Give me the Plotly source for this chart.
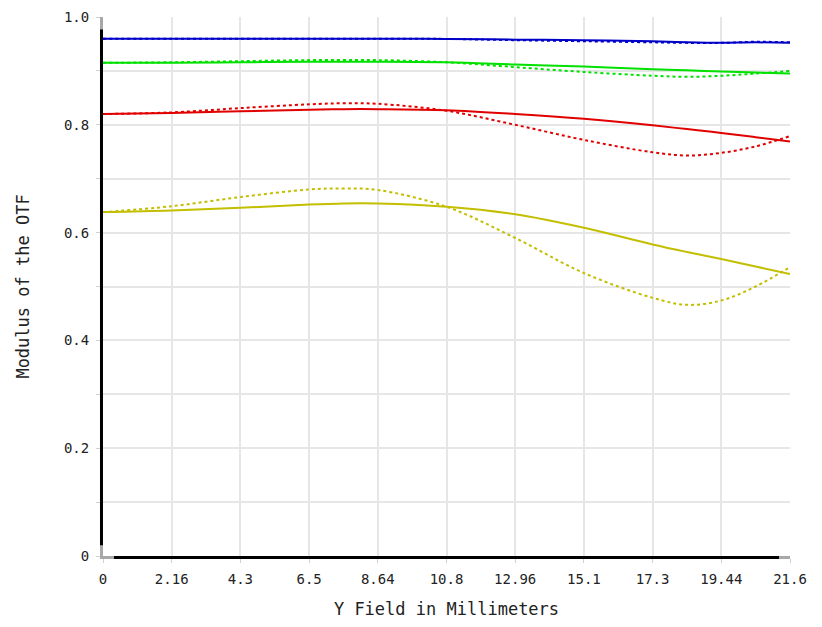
"""MTF vs field chart: modulus of the OTF across the Y field."""

import plotly.graph_objects as go

FONT = "DejaVu Sans Mono"

field_mm = [0, 2.16, 4.32, 6.48, 7.56, 8.64, 10.8, 12.96, 15.12, 17.28, 18.36, 19.44, 20.52, 21.6]

blue_tan = [0.9595, 0.9595, 0.9595, 0.9595, 0.9595, 0.9595, 0.9593, 0.958, 0.957, 0.955, 0.953, 0.952, 0.953, 0.952]
blue_sag = [0.9595, 0.9595, 0.9595, 0.9597, 0.9597, 0.9597, 0.9593, 0.957, 0.955, 0.953, 0.952, 0.952, 0.954, 0.953]
green_tan = [0.915, 0.915, 0.916, 0.917, 0.917, 0.917, 0.916, 0.912, 0.908, 0.903, 0.901, 0.899, 0.897, 0.895]
green_sag = [0.915, 0.916, 0.918, 0.920, 0.920, 0.920, 0.916, 0.907, 0.898, 0.891, 0.889, 0.891, 0.895, 0.900]
red_tan = [0.820, 0.822, 0.825, 0.828, 0.829, 0.829, 0.827, 0.820, 0.811, 0.799, 0.792, 0.785, 0.777, 0.769]
red_sag = [0.820, 0.823, 0.831, 0.838, 0.840, 0.839, 0.826, 0.800, 0.772, 0.749, 0.743, 0.748, 0.760, 0.779]
yellow_tan = [0.638, 0.641, 0.646, 0.652, 0.654, 0.654, 0.648, 0.634, 0.609, 0.578, 0.564, 0.551, 0.537, 0.523]
yellow_sag = [0.638, 0.649, 0.666, 0.680, 0.682, 0.679, 0.648, 0.590, 0.525, 0.479, 0.466, 0.474, 0.500, 0.536]

x_tickvals = [i * 2.16 for i in range(11)]
x_ticktext = ["0", "2.16", "4.3", "6.5", "8.64", "10.8", "12.96", "15.1", "17.3", "19.44", "21.6"]
y_tickvals = [0, 0.2, 0.4, 0.6, 0.8, 1.0]
y_ticktext = ["0", "0.2", "0.4", "0.6", "0.8", "1.0"]

series = [
    (blue_tan, blue_sag, "rgb(0,0,200)"),
    (green_tan, green_sag, "rgb(0,225,0)"),
    (red_tan, red_sag, "rgb(225,0,0)"),
    (yellow_tan, yellow_sag, "rgb(195,190,0)"),
]

fig = go.Figure()
for tan, sag, color in series:
    fig.add_trace(go.Scatter(x=field_mm, y=sag, mode="lines",
                             line=dict(color=color, width=2, dash="dot", shape="spline")))
    fig.add_trace(go.Scatter(x=field_mm, y=tan, mode="lines",
                             line=dict(color=color, width=2, shape="spline")))

# page body has an 8px default margin, so the plot box is shifted to compensate
fig.update_layout(
    width=822,
    height=627,
    margin=dict(l=95, r=40, t=9, b=79, autoexpand=False),
    paper_bgcolor="white",
    plot_bgcolor="white",
    showlegend=False,
    font=dict(family=FONT, size=14, color="#222"),
)

axis_style = dict(
    showgrid=True,
    gridcolor="#e6e6e6",
    gridwidth=2,
    showline=True,
    linecolor="#a8a8a8",
    linewidth=3,
    ticks="outside",
    ticklen=4,
    tickcolor="#d0d0d0",
    ticklabelstandoff=4,
    zeroline=False,
    automargin=False,
)
fig.update_xaxes(
    range=[0, 21.6],
    tickvals=x_tickvals,
    ticktext=x_ticktext,
    title=dict(text="Y Field in Millimeters", font=dict(family=FONT, size=17), standoff=18),
    **axis_style,
)
fig.update_yaxes(
    range=[0, 1.0],
    tickvals=y_tickvals,
    ticktext=y_ticktext,
    title=dict(text="Modulus of the OTF", font=dict(family=FONT, size=17), standoff=30),
    minor=dict(dtick=0.1, showgrid=True, gridcolor="#e6e6e6", gridwidth=2,
               ticks="outside", ticklen=4, tickcolor="#d0d0d0"),
    **axis_style,
)

# black axis lines over the grey ones, leaving grey caps at the ends
fig.add_shape(type="line", xref="paper", yref="paper",
              x0=-0.0022, x1=-0.0022, y0=0.02, y1=0.977,
              line=dict(color="black", width=3), layer="above")
fig.add_shape(type="line", xref="paper", yref="paper",
              x0=0.016, x1=0.984, y0=-0.0028, y1=-0.0028,
              line=dict(color="black", width=3), layer="above")

fig.write_html("out.html")
